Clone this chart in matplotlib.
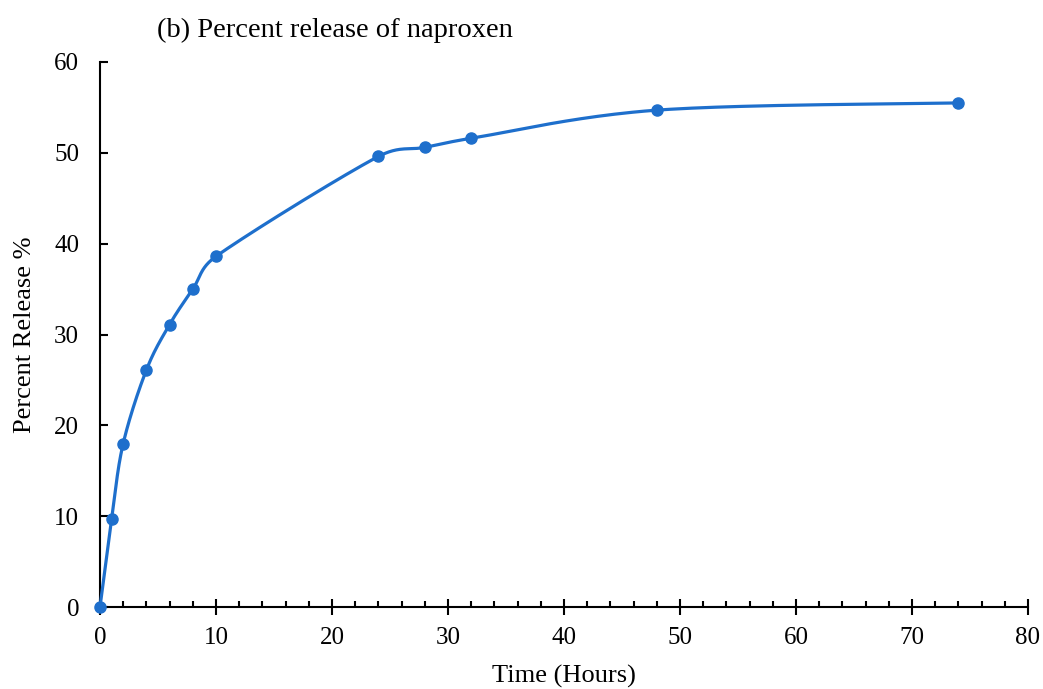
import numpy as np
import matplotlib
matplotlib.use("Agg")
import matplotlib.pyplot as plt
from matplotlib.ticker import MultipleLocator

time_hours = [0, 1, 2, 4, 6, 8, 10, 24, 28, 32, 48, 74]
percent_release = [0, 9.7, 18.0, 26.1, 31.1, 35.0, 38.6, 49.6, 50.6, 51.6, 54.7, 55.5]

title = "(b) Percent release of naproxen"
xlabel = "Time (Hours)"
ylabel = "Percent Release %"

plt.rcParams['font.family'] = ['Liberation Serif', 'DejaVu Serif']


def excel_smooth(ax, x, y, n=40):
    """Excel-like Bezier smoothing computed in display space."""
    P = ax.transData.transform(np.column_stack([x, y]))
    m = len(P)
    out = []
    t = np.linspace(0, 1, n)[:, None]
    for i in range(m - 1):
        p1 = P[i]; p2 = P[i + 1]
        p0 = P[i - 1] if i > 0 else P[i]
        p3 = P[i + 2] if i + 2 < m else P[i + 1]
        d02 = np.linalg.norm(p2 - p0)
        d12 = np.linalg.norm(p2 - p1)
        d13 = np.linalg.norm(p3 - p1)
        f0 = 1 / 6 if d02 / 6 < d12 / 2 else d12 / (2 * d02)
        f1 = 1 / 6 if d13 / 6 < d12 / 2 else d12 / (2 * d13)
        c1 = p1 + (p2 - p0) * f0
        c2 = p2 - (p3 - p1) * f1
        seg = (1 - t) ** 3 * p1 + 3 * (1 - t) ** 2 * t * c1 + 3 * (1 - t) * t ** 2 * c2 + t ** 3 * p2
        out.append(seg if i == 0 else seg[1:])
    s = ax.transData.inverted().transform(np.vstack(out))
    return s[:, 0], s[:, 1]


fig = plt.figure(figsize=(10.43, 6.89), dpi=100)
ax = fig.add_axes([100 / 1043, 1 - 607 / 689, 928 / 1043, 545 / 689])
ax.set_xlim(0, 80)
ax.set_ylim(0, 60)

color = '#1E6FCC'
sx, sy = excel_smooth(ax, time_hours, percent_release)
ax.plot(sx, sy, color=color, lw=2.3, zorder=3, clip_on=False)
ax.plot(time_hours, percent_release, 'o', color=color, ms=8, zorder=4, clip_on=False)

ax.xaxis.set_major_locator(MultipleLocator(10))
ax.xaxis.set_minor_locator(MultipleLocator(2))
ax.yaxis.set_major_locator(MultipleLocator(10))

for s in ['top', 'right']:
    ax.spines[s].set_visible(False)
for s in ['left', 'bottom']:
    ax.spines[s].set_linewidth(1.5)
    ax.spines[s].set_color('black')

ax.tick_params(axis='x', which='major', direction='inout', length=11, width=1.5, labelsize=18, pad=9)
ax.tick_params(axis='x', which='minor', direction='in', length=4.5, width=1.5)
ax.tick_params(axis='y', which='major', direction='in', length=6, width=1.5, labelsize=18, pad=15)

ax.set_xlabel(xlabel, fontsize=19, labelpad=11)
ax.set_ylabel(ylabel, fontsize=19, labelpad=13)
fig.text(157 / 1043, 1 - 30 / 689, title, fontsize=20.5, ha='left', va='center')

fig.savefig('out.png', dpi=100)
